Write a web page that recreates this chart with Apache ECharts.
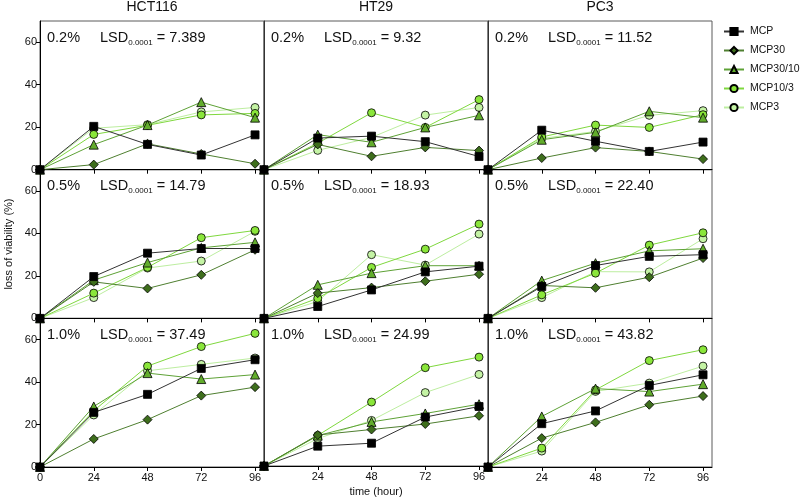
<!DOCTYPE html>
<html><head><meta charset="utf-8">
<script src="https://cdn.jsdelivr.net/npm/echarts@6/dist/echarts.min.js"></script>
<style>html,body{margin:0;padding:0;background:#fff}#c{width:800px;height:498px}</style>
</head><body><div id="c"></div>
<script>
// ---- data ----
const hours = [0, 24, 48, 72, 96];
const cellLines = ['HCT116', 'HT29', 'PC3'];
const doses = ['0.2%', '0.5%', '1.0%'];
const lsdValues = [['7.389', '9.32', '11.52'], ['14.79', '18.93', '22.40'], ['37.49', '24.99', '43.82']];
const treatments = ['MCP', 'MCP30', 'MCP30/10', 'MCP10/3', 'MCP3'];
const xTickValues = [0, 24, 48, 72, 96];
const yTickValues = [0, 20, 40, 60];

// each: [HCT116, HT29, PC3]
const MCP_02 = [[0, 20.4, 11.9, 6.9, 16.4], [0, 14.9, 15.8, 13.2, 6.2], [0, 18.6, 13.4, 8.6, 13.0]];
const MCP_05 = [[0, 19.7, 30.7, 32.9, 32.9], [0, 5.6, 13.4, 21.9, 24.6], [0, 15.0, 24.9, 29.2, 30.0]];
const MCP_10 = [[0, 25.7, 34.2, 46.4, 50.5], [0, 9.4, 10.8, 23.2, 28.2], [0, 20.4, 26.4, 38.4, 43.4]];

const MCP30_02 = [[0, 2.4, 12.2, 7.4, 2.8], [0, 11.9, 6.3, 10.5, 9.0], [0, 5.5, 10.4, 8.6, 5.0]];
const MCP30_05 = [[0, 17.2, 14.1, 20.5, 32.3], [0, 11.9, 14.5, 17.5, 20.8], [0, 15.5, 14.4, 19.4, 28.4]];
const MCP30_10 = [[0, 13.2, 22.3, 33.6, 37.6], [0, 14.7, 17.3, 19.9, 23.8], [0, 13.6, 21.0, 29.3, 33.4]];

const MCP30_10_02 = [[0, 11.8, 21.0, 31.8, 24.5], [0, 16.5, 12.9, 19.9, 25.6], [0, 14.1, 17.6, 27.5, 24.5]];
const MCP30_10_05 = [[0, 18.0, 26.3, 33.2, 35.8], [0, 15.8, 21.3, 24.8, 24.8], [0, 17.8, 26.0, 31.8, 32.8]];
const MCP30_10_10 = [[0, 28.5, 44.2, 41.4, 43.5], [0, 14.4, 20.9, 24.9, 29.3], [0, 23.8, 36.9, 35.5, 39.0]];

const MCP10_3_02 = [[0, 16.6, 20.9, 25.8, 26.5], [0, 12.5, 26.8, 19.9, 33.0], [0, 15.4, 21.0, 19.9, 25.9]];
const MCP10_3_05 = [[0, 11.9, 24.0, 38.0, 41.4], [0, 9.5, 24.0, 32.6, 44.4], [0, 11.1, 21.3, 34.5, 40.3]];
const MCP10_3_10 = [[0, 26.5, 47.5, 56.7, 62.9], [0, 14.5, 30.3, 46.6, 51.6], [0, 8.9, 36.3, 50.1, 55.2]];

const MCP3_02 = [[0, 19.5, 21.2, 27.2, 29.3], [0, 9.1, 15.2, 25.7, 29.3], [0, 14.7, 18.0, 25.6, 27.8]];
const MCP3_05 = [[0, 9.8, 23.7, 27.0, 41.0], [0, 8.0, 30.0, 25.1, 39.7], [0, 9.8, 22.0, 21.9, 37.5]];
const MCP3_10 = [[0, 24.5, 45.3, 48.3, 51.3], [0, 13.0, 21.6, 34.8, 43.4], [0, 7.5, 35.6, 39.5, 47.5]];

const seriesData = {
  'MCP': [MCP_02, MCP_05, MCP_10],
  'MCP30': [MCP30_02, MCP30_05, MCP30_10],
  'MCP30/10': [MCP30_10_02, MCP30_10_05, MCP30_10_10],
  'MCP10/3': [MCP10_3_02, MCP10_3_05, MCP10_3_10],
  'MCP3': [MCP3_02, MCP3_05, MCP3_10]
};

// ---- styles ----
const FONT = '"Liberation Sans", Arial, sans-serif';
const look = {
  'MCP': { symbol: 'rect', size: 8, fill: '#000000', line: '#333333', z: 10 },
  'MCP30': { symbol: 'diamond', size: 9, fill: '#3e6e1c', line: '#4f7f30', z: 9 },
  'MCP30/10': { symbol: 'triangle', size: 9, fill: '#62ad2c', line: '#5ea236', z: 8 },
  'MCP10/3': { symbol: 'circle', size: 8, fill: '#8ae63a', line: '#7fd83e', z: 7 },
  'MCP3': { symbol: 'circle', size: 8, fill: '#c4f3a4', line: '#bdeea0', z: 6 }
};
const colLeft = [40, 264, 488];
const colW = 224;
const rowTop = [21, 169.7, 318.3];
const rowH = 148.7;

const grids = [], xAxes = [], yAxes = [], series = [], graphics = [];
for (let r = 0; r < 3; r++) {
  for (let c = 0; c < 3; c++) {
    const idx = r * 3 + c;
    grids.push({ left: colLeft[c], top: rowTop[r], width: colW, height: rowH,
      show: true, borderColor: '#5a5a5a', borderWidth: 1, backgroundColor: 'transparent' });
    xAxes.push({
      type: 'value', gridIndex: idx, min: 0, max: 100,
      axisLine: { show: true, onZero: false, lineStyle: { color: '#000', width: 1 } },
      axisTick: { show: true, length: 4, customValues: [24, 48, 72, 96], lineStyle: { color: '#000' } },
      axisLabel: { show: r === 2, customValues: c === 0 ? xTickValues : xTickValues.slice(1),
        fontSize: 11, fontFamily: FONT, color: '#111', margin: 5 },
      splitLine: { show: false },
      name: idx === 7 ? 'time (hour)' : '', nameLocation: 'middle', nameGap: 20,
      nameTextStyle: { fontSize: 11, fontFamily: FONT, color: '#111' }
    });
    yAxes.push({
      type: 'value', gridIndex: idx, min: 0, max: 70,
      axisLine: { show: true, onZero: false, lineStyle: { color: c === 0 ? '#000' : '#333', width: 1 } },
      axisTick: { show: c === 0, length: 4, customValues: yTickValues, lineStyle: { color: '#000' } },
      axisLabel: { show: c === 0, customValues: yTickValues, fontSize: 11, fontFamily: FONT, color: '#111', margin: 3 },
      splitLine: { show: false },
      name: idx === 3 ? 'loss of viability (%)' : '', nameLocation: 'middle', nameGap: 26, nameRotate: 90,
      nameTextStyle: { fontSize: 11, fontFamily: FONT, color: '#111' }
    });
    for (const t of ['MCP3', 'MCP10/3', 'MCP30/10', 'MCP30', 'MCP']) {
      const L = look[t];
      const vals = seriesData[t][r][c];
      series.push({
        type: 'line', name: t, xAxisIndex: idx, yAxisIndex: idx,
        data: hours.map((h, i) => [h, vals[i]]),
        symbol: L.symbol, symbolSize: L.size, showAllSymbol: true, clip: false,
        itemStyle: { color: L.fill, borderColor: '#000', borderWidth: 0.8 },
        lineStyle: { color: L.line, width: 1 },
        z: L.z, animation: false, silent: true
      });
    }
    const cy = rowTop[r] + 16.5;
    graphics.push({ type: 'text', x: colLeft[c] + 7, y: cy,
      style: { text: doses[r], font: '14.5px ' + FONT, fill: '#111', verticalAlign: 'middle' } });
    graphics.push({ type: 'text', x: colLeft[c] + 60, y: cy,
      style: { text: '{a|LSD}{s|0.0001}{a| = ' + lsdValues[r][c] + '}', verticalAlign: 'middle',
        rich: {
          a: { fontSize: 14.5, fontFamily: FONT, fill: '#111', lineHeight: 18, verticalAlign: 'middle' },
          s: { fontSize: 8, fontFamily: FONT, fill: '#111', lineHeight: 8, verticalAlign: 'bottom' }
        } } });
  }
}
for (let c = 0; c < 3; c++) {
  graphics.push({ type: 'text', x: colLeft[c] + colW / 2, y: 7,
    style: { text: cellLines[c], font: '14px ' + FONT, fill: '#111', align: 'center', verticalAlign: 'middle' } });
}

const chart = echarts.init(document.getElementById('c'), null, { renderer: 'canvas' });
chart.setOption({
  animation: false,
  backgroundColor: '#fff',
  grid: grids, xAxis: xAxes, yAxis: yAxes, series: series,
  legend: {
    data: treatments, orient: 'vertical', left: 723, top: 26, padding: 0,
    itemWidth: 20, itemHeight: 9, itemGap: 8,
    textStyle: { fontSize: 10.5, fontFamily: FONT, color: '#111', padding: [0, 0, 0, 1] },
    selectedMode: false
  },
  graphic: graphics
});
</script></body></html>
